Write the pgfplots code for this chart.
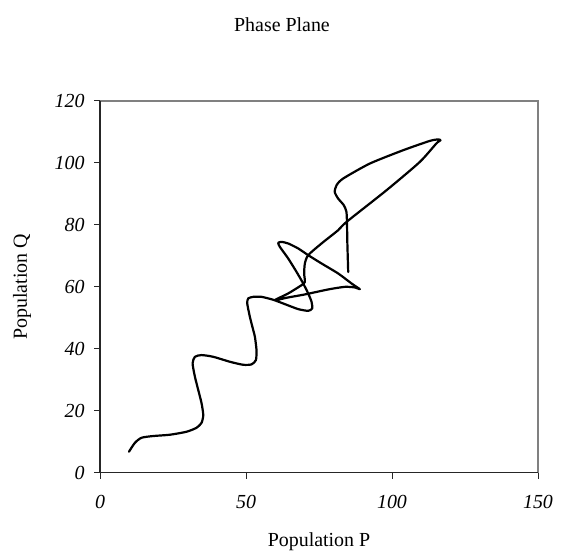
\documentclass[border=0pt]{standalone}
\usepackage{pgfplots}
\pgfplotsset{compat=1.18}
\usepackage{fontspec}
\setmainfont{Liberation Serif}

\pgfplotstableread{
P Q
9.92 6.77
11.98 9.68
14.26 11.29
18.25 11.84
23.96 12.26
29.66 13.23
33.08 14.52
34.79 16.13
35.36 18.61
34.79 22.39
33.65 26.68
32.51 30.97
31.71 35.29
32.51 37.42
34.79 37.97
38.78 37.42
44.49 35.81
49.05 34.84
51.90 34.97
53.39 36.35
53.60 39.58
53.05 43.87
52.48 46.03
51.33 50.32
50.42 54.64
50.76 56.26
52.48 56.77
55.33 56.77
59.32 55.83
63.31 54.42
67.88 52.81
71.30 52.26
72.67 53.03
72.45 55.16
71.30 57.87
69.58 61.10
67.30 64.84
64.45 69.16
61.60 72.90
61.03 74.19
62.17 74.52
64.45 74.00
67.88 72.39
71.30 70.23
75.86 67.55
81.56 64.32
86.13 61.10
88.98 59.26
87.27 59.81
83.85 60.00
78.14 59.16
70.16 57.55
64.45 56.58
59.89 55.71
64.45 57.87
69.03 60.55
70.16 61.61
69.92 64.32
70.16 67.55
71.30 70.23
75.86 74.00
81.56 78.29
84.43 80.97
98.12 91.19
109.50 100.30
115.20 106.30
116.60 107.30
115.80 107.60
112.90 107.10
103.80 104.10
92.40 99.80
83.27 94.97
81.00 92.80
80.40 90.60
81.56 88.50
83.50 86.35
84.40 84.20
84.60 79.90
84.70 74.50
85.00 64.80
}\phase

\begin{document}
\begin{tikzpicture}
\path[use as bounding box] (0,0) rectangle (564bp,556bp);
\begin{axis}[
    at={(100bp,83.3bp)}, anchor=south west,
    scale only axis,
    width=438bp, height=371.7bp,
    xmin=0, xmax=150, ymin=0, ymax=120,
    xtick={0,50,100,150},
    xticklabels={\textit{0},\textit{50},\textit{100},\textit{150}},
    ytick={0,20,40,60,80,100,120},
    yticklabels={\textit{0},\textit{20},\textit{40},\textit{60},\textit{80},\textit{100},\textit{120}},
    axis lines=left,
    axis line style={-, black!85, line width=1.2bp},
    axis background/.style={draw=gray, line width=1.2bp},
    tick align=outside,
    major tick length=6bp,
    tick style={black!85, line width=1bp},
    font=\fontsize{20}{24}\selectfont,
    ticklabel style={font=\fontsize{20}{24}\selectfont},
    xticklabel style={anchor=center, yshift=-23bp},
    yticklabel style={anchor=east, xshift=-6bp},
    title={Phase Plane},
    title style={at={(0.4155,1.188)}, anchor=center},
    xlabel={Population P},
    xlabel style={at={(0.5,-0.1864)}, anchor=center},
    ylabel={Population Q},
    ylabel style={at={(-0.178,0.5)}, anchor=center},
]
\addplot[black, line width=2.2bp, line join=round, line cap=round, smooth, tension=0.4] table[x=P, y=Q] {\phase};
\end{axis}
\end{tikzpicture}
\end{document}
